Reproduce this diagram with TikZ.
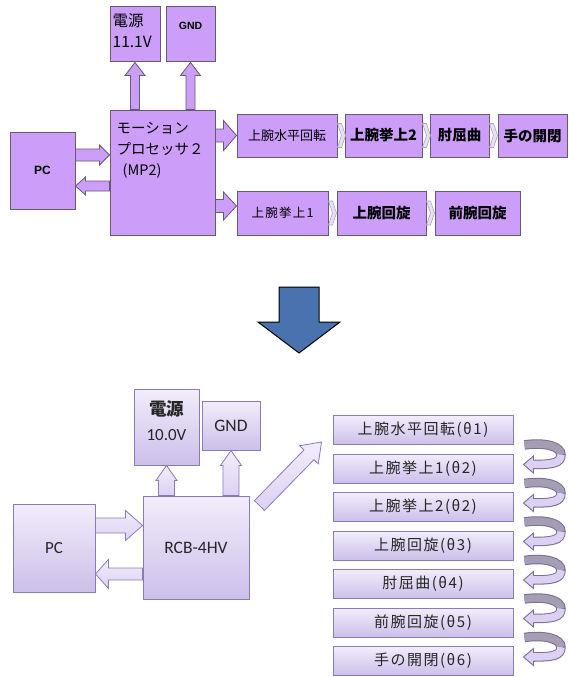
\documentclass[tikz,border=0pt]{standalone}
\usepackage{fontspec}
\setmainfont{Carlito}
\newfontfamily\jp{Noto Sans CJK JP}
\newfontfamily\jpls[LetterSpace=10]{Noto Sans CJK JP}
\newfontfamily\arialfont{Liberation Sans}
\usepackage{tikz}
\usetikzlibrary{arrows.meta,calc,positioning}

\definecolor{mpfill}{RGB}{204,158,250}
\definecolor{mpline}{RGB}{98,92,110}
\definecolor{rcbtop}{RGB}{242,237,251}
\definecolor{rcbbot}{RGB}{204,191,233}
\definecolor{rcbline}{RGB}{138,122,184}
\definecolor{arrfill}{RGB}{220,209,243}
\definecolor{curvgray}{RGB}{165,157,180}
\definecolor{curvline}{RGB}{120,110,150}
\definecolor{downblue}{RGB}{74,114,174}
\definecolor{txtdark}{RGB}{38,38,38}

% block arrow: style, from, to, half shaft, half head, head length
\newcommand{\fatarrow}[6]{%
  \coordinate (fa-h) at ($(#3)!#6!(#2)$);
  \draw[#1] ($(#2)!#4!90:(#3)$) -- ($(fa-h)!#4!90:(#3)$) -- ($(fa-h)!#5!90:(#3)$) -- (#3)
    -- ($(fa-h)!#5!-90:(#3)$) -- ($(fa-h)!#4!-90:(#3)$) -- ($(#2)!#4!-90:(#3)$) -- cycle;}

\begin{document}
\begin{tikzpicture}[x=1pt, y=-1pt,
  topbox/.style={draw=mpline, fill=mpfill, line width=1pt, inner sep=0pt, text=black},
  toparr/.style={draw=mpline, fill=mpfill, line width=0.8pt},
  chev/.style={draw=gray!70, fill=mpfill!35, line width=0.6pt},
  botbox/.style={draw=rcbline, top color=rcbtop, bottom color=rcbbot, line width=0.9pt, inner sep=0pt, text=txtdark},
  botarr/.style={draw=rcbline, top color=rcbtop, bottom color=arrfill, line width=0.8pt},
  downarr/.style={draw=black, fill=downblue, line width=1pt},
  curvbord/.style={draw=curvline, line width=9.5pt},
  curvin/.style={line width=7.5pt}]
\useasboundingbox (0,0) rectangle (568,677);

% Schema a blocchi MP2
\node[topbox, minimum width=50pt, minimum height=55pt] (den1) at (135,34.5) {};
\node[topbox, minimum width=49pt, minimum height=55pt] (gnd1) at (190.5,34.5) {};
\node[topbox, minimum width=105pt, minimum height=125pt] (mp2) at (162.5,172.5) {};
\node[topbox, minimum width=65pt, minimum height=77pt, font=\arialfont\bfseries\fontsize{12}{14}\selectfont] (pc1) at (42.5,170.5) {PC};
\node[font=\jp\fontsize{15.5}{21}\selectfont, anchor=north west, align=left, inner sep=0pt] (den1t) at ($(den1.north west)+(3,7)$) {電源\\11.1V};
\node[font=\arialfont\bfseries\fontsize{10.5}{12}\selectfont] (gnd1t) at ($(gnd1.north)+(0,19)$) {GND};
\node[font=\jp\fontsize{14.5}{21}\selectfont, anchor=north west, align=left, inner sep=0pt] (mp2t) at ($(mp2.north west)+(7,13)$) {モーション\\プロセッサ２\\\hspace{6pt}(MP2)};

\node[topbox, minimum width=100pt, minimum height=43pt, font=\jp\fontsize{13}{15}\selectfont] (a1) at (287,135.5) {上腕水平回転};
\node[topbox, minimum width=77pt, minimum height=43pt, font=\jp\bfseries\fontsize{14.5}{16}\selectfont] (a2) at (383.5,135.5) {上腕挙上2};
\node[topbox, minimum width=59pt, minimum height=43pt, font=\jp\bfseries\fontsize{14.5}{16}\selectfont] (a3) at (459.5,135.5) {肘屈曲};
\node[topbox, minimum width=69pt, minimum height=43pt, font=\jp\bfseries\fontsize{14.5}{16}\selectfont] (a4) at (532.5,135.5) {手の開閉};
\node[topbox, minimum width=91pt, minimum height=44pt, font=\jpls\fontsize{12.5}{15}\selectfont] (b1) at (282.5,213) {上腕挙上1};
\node[topbox, minimum width=89pt, minimum height=44pt, font=\jp\bfseries\fontsize{14.5}{16}\selectfont] (b2) at (381.5,213) {上腕回旋};
\node[topbox, minimum width=85pt, minimum height=44pt, font=\jp\bfseries\fontsize{14.5}{16}\selectfont] (b3) at (477.5,213) {前腕回旋};

\coordinate (p1s) at (pc1.east |- 0,155);  \coordinate (p1e) at (mp2.west |- 0,155);
\coordinate (p2s) at (mp2.west |- 0,186);  \coordinate (p2e) at (pc1.east |- 0,186);
\coordinate (p3s) at (mp2.north -| den1);  \coordinate (p4s) at (mp2.north -| gnd1);
\coordinate (p5s) at (mp2.east |- a1);     \coordinate (p6s) at (mp2.east |- 0,206);
\coordinate (p6e) at (b1.west |- 0,206);
\fatarrow{toparr}{p1s}{p1e}{6pt}{10pt}{10pt}
\fatarrow{toparr}{p2s}{p2e}{5pt}{9pt}{10pt}
\fatarrow{toparr}{p3s}{den1.south}{4.5pt}{10pt}{13pt}
\fatarrow{toparr}{p4s}{gnd1.south}{4.5pt}{10pt}{13pt}
\fatarrow{toparr}{p5s}{a1.west}{6.5pt}{15pt}{13pt}
\fatarrow{toparr}{p6s}{p6e}{6.5pt}{14pt}{13pt}
\foreach \p/\q in {a1/a2,a2/a3,a3/a4,b1/b2,b2/b3}
  \draw[chev, shift={(\p.east)}] (0,-12) -- (4,-12) -- (8,0) -- (4,12) -- (0,12) -- (4,0) -- cycle;

% freccia
\coordinate (dn-s) at (299,287);
\coordinate (dn-e) at (299,353);
\fatarrow{downarr}{dn-s}{dn-e}{20pt}{41pt}{31pt}

% Schema a blocchi RCB-4HV
\node[botbox, minimum width=65pt, minimum height=76pt] (den2) at (166.5,427) {};
\node[font=\fontsize{17}{25}\selectfont, align=center, text=txtdark] (den2t) at ($(den2)+(0,-6)$) {{\jp\bfseries\fontsize{17.5}{25}\selectfont 電源}\\10.0V};
\node[botbox, minimum width=58pt, minimum height=49pt, font=\fontsize{17.5}{20}\selectfont] (gnd2) at (231,425.5) {GND};
\node[botbox, minimum width=106pt, minimum height=103pt, font=\fontsize{17.5}{20}\selectfont] (rcb) at (196,547.5) {RCB-4HV};
\node[botbox, minimum width=82pt, minimum height=88pt, font=\fontsize{17}{20}\selectfont] (pc2) at (54,548) {PC};
\foreach \lbl [count=\i] in {{上腕水平回転(θ1)},{上腕挙上1(θ2)},{上腕挙上2(θ2)},{上腕回旋(θ3)},{肘屈曲(θ4)},{前腕回旋(θ5)},{手の開閉(θ6)}}
  \node[botbox, minimum width=180pt, minimum height=29pt, font=\jpls\fontsize{15}{18}\selectfont] (c\i) at (423,{391.5+38.5*\i}) {\lbl};

\coordinate (q1s) at (pc2.east |- 0,525.5); \coordinate (q1e) at (rcb.west |- 0,525.5);
\coordinate (q2s) at (rcb.west |- 0,574);   \coordinate (q2e) at (pc2.east |- 0,574);
\coordinate (q3s) at (rcb.north -| den2);   \coordinate (q4s) at (rcb.north -| gnd2);
\coordinate (dg-s) at ($(rcb.north east)+(10,10)$);
\coordinate (dg-e) at ($(c1.south west)+(-11,-3)$);
\fatarrow{botarr}{q1s}{q1e}{7.5pt}{15pt}{17pt}
\fatarrow{botarr}{q2s}{q2e}{6pt}{14.5pt}{13pt}
\fatarrow{botarr}{q3s}{den2.south}{8pt}{10.5pt}{15pt}
\fatarrow{botarr}{q4s}{gnd2.south}{8pt}{10.5pt}{15pt}
\fatarrow{botarr}{dg-s}{dg-e}{7pt}{13pt}{18pt}

% frecce curve tra i giunti
\foreach \i/\j in {1/2,2/3,3/4,4/5,5/6,6/7} {
  \coordinate (s\i) at ($(c\i.south east)+(11,0)$);
  \coordinate (t\i) at ($(c\j.east)+(10,-4)$);
  \coordinate (e\i) at ($(t\i)+(10,0)$);
  \coordinate (m\i) at ($(s\i)!0.5!(e\i)+(32,0)$);
  \draw[curvbord] (s\i) .. controls ($(s\i)+(22,-3)$) and ($(m\i)+(0,-8)$) .. (m\i)
    .. controls ($(m\i)+(0,8)$) and ($(e\i)+(20,0)$) .. (e\i);
  \draw[draw=curvline, fill=arrfill, line width=0.9pt] (t\i) -- ($(t\i)+(10,-8.5)$) -- ($(t\i)+(10,8.5)$) -- cycle;
  \draw[curvin, curvgray] (s\i) .. controls ($(s\i)+(22,-3)$) and ($(m\i)+(0,-8)$) .. (m\i);
  \draw[curvin, arrfill] (m\i) .. controls ($(m\i)+(0,8)$) and ($(e\i)+(20,0)$) .. ($(e\i)+(-1.5,0)$);
}

\end{tikzpicture}
\end{document}
